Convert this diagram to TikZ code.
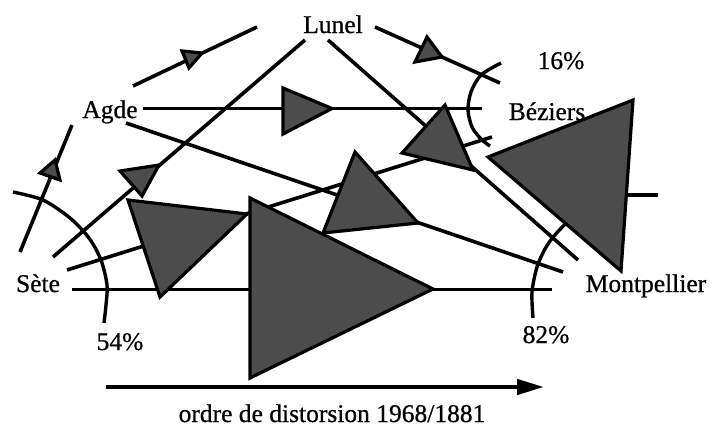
\documentclass[tikz,border=0pt]{standalone}
\usepackage{fontspec}
\setmainfont{Liberation Serif}[FakeBold=0.7]
\usetikzlibrary{arrows.meta}
\begin{document}
\begin{tikzpicture}[x=1pt,y=-1pt,
  link/.style={line width=3.6pt},
  tri/.style={draw=black, fill=black!70, line width=3.2pt, line join=miter},
  arcline/.style={line width=3.4pt},
  lbl/.style={font=\fontsize{25.5}{30}\selectfont, inner sep=0pt, anchor=base}]
\useasboundingbox (0,0) rectangle (712,426);

% connector end points
\coordinate (agL1) at (133,86);    \coordinate (luL1) at (257,27);
\coordinate (luL2) at (375,27);    \coordinate (beL2) at (500,83);
\coordinate (seL3) at (20,252);    \coordinate (agL3) at (72,125);
\coordinate (agL4) at (143,108.5); \coordinate (beL4) at (482,108.5);
\coordinate (seL5) at (53,257);    \coordinate (luL5) at (305,40);
\coordinate (seL6) at (67,270);    \coordinate (beL6) at (492,137);
\coordinate (seL7) at (72,289.5);  \coordinate (moL7) at (552,289.5);
\coordinate (agL8) at (126,123);   \coordinate (moL8) at (563,272);
\coordinate (luL9) at (328,40);    \coordinate (moL9) at (578,260);
\coordinate (stA) at (627,195);    \coordinate (stB) at (658,195);
\coordinate (axA) at (106,387);    \coordinate (axB) at (544,387);

% connectors
\draw[link] (agL1) -- (luL1);
\draw[link] (luL2) -- (beL2);
\draw[link] (seL3) -- (agL3);
\draw[link] (agL4) -- (beL4);
\draw[link] (seL5) -- (luL5);
\draw[link] (seL6) -- (beL6);
\draw[link] (seL7) -- (moL7);
\draw[link] (agL8) -- (moL8);
\draw[link] (luL9) -- (moL9);
\draw[link] (stA) -- (stB);

% arcs
\draw[arcline] plot[smooth] coordinates {(13,192) (43,200) (70,218) (89,238) (101,260) (107,285) (106,305) (104,323)};
\draw[arcline] plot[smooth] coordinates {(501,63) (481,75) (471,92) (468,110) (472,127) (481,139) (490,146)};
\draw[arcline] plot[smooth] coordinates {(533,318) (532,292) (537,267) (545,249) (554,236) (570,219)};

% axis arrow
\draw[line width=4.4pt, -{Triangle[length=27pt,width=15pt]}] (axA) -- (axB);

% Beziers label (partly hidden by a triangle)
\node[lbl] (bez) at (547,120) {Béziers};

% triangles
\filldraw[tri] (182,51) -- (202,53) -- (189,68) -- cycle;
\filldraw[tri] (427,37) -- (415,62) -- (442,57) -- cycle;
\filldraw[tri] (55,160) -- (40,173) -- (60,180) -- cycle;
\filldraw[tri] (283,88) -- (283,134) -- (332,108.5) -- cycle;
\filldraw[tri] (120,171) -- (159,165) -- (142,196) -- cycle;
\filldraw[tri] (128,200) -- (247,214) -- (160,297) -- cycle;
\filldraw[tri] (355,152) -- (323,233) -- (418,223) -- cycle;
\filldraw[tri] (250,198) -- (250,378) -- (433,289) -- cycle;
\filldraw[tri] (445,105) -- (402,153) -- (473,170) -- cycle;
\filldraw[tri] (488,157) -- (633,100) -- (621,271) -- cycle;

% labels
\node[lbl] (lunel) at (333,33) {Lunel};
\node[lbl] (agde) at (110,118) {Agde};
\node[lbl] (sete) at (38,292) {Sète};
\node[lbl] (mont) at (646,292) {Montpellier};
\node[lbl] (p16) at (561,69) {16\%};
\node[lbl] (p54) at (120,350) {54\%};
\node[lbl] (p82) at (546,343) {82\%};
\node[lbl] (axis) at (332,422) {ordre de distorsion 1968/1881};
\end{tikzpicture}
\end{document}
